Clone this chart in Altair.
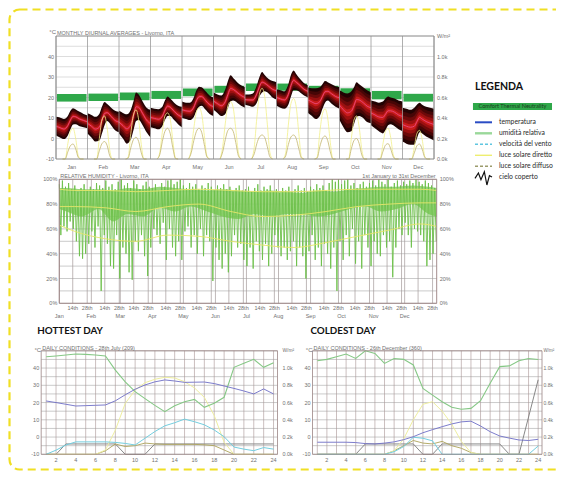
import altair as alt
import pandas as pd

# ---------------- DATA ----------------
MONTHS = ["Jan", "Feb", "Mar", "Apr", "May", "Jun", "Jul", "Aug", "Sep", "Oct", "Nov", "Dec"]
HOURS_T = [0, 3, 6, 9, 11, 13, 15, 18, 21, 24]
T_HI = [
    [10.6, 10.2, 9.5, 11.0, 13.5, 14.8, 14.2, 13.0, 12.0, 11.2],
    [12.3, 11.5, 10.6, 12.0, 15.5, 17.8, 16.8, 15.0, 13.5, 13.0],
    [13.5, 12.5, 11.8, 14.0, 18.0, 22.5, 21.5, 18.0, 15.0, 14.0],
    [15.0, 14.5, 14.3, 15.5, 18.5, 20.5, 19.5, 17.5, 16.0, 15.5],
    [18.0, 17.5, 17.5, 20.0, 23.5, 25.3, 25.0, 23.0, 21.0, 20.0],
    [22.5, 21.5, 21.0, 24.0, 28.0, 30.8, 29.5, 27.5, 26.0, 25.0],
    [21.5, 21.5, 22.0, 26.0, 30.0, 32.5, 31.0, 29.0, 28.0, 27.5],
    [24.0, 23.5, 23.0, 26.5, 31.0, 33.2, 31.5, 29.0, 27.0, 26.0],
    [25.0, 24.5, 24.5, 25.0, 26.5, 28.0, 27.5, 26.5, 25.5, 25.0],
    [23.5, 22.5, 22.0, 23.0, 25.0, 27.5, 26.5, 25.0, 23.5, 22.5],
    [18.5, 18.0, 17.5, 18.0, 19.5, 20.5, 20.0, 19.5, 18.5, 18.0],
    [15.0, 14.5, 14.0, 15.0, 16.5, 17.5, 16.5, 15.5, 15.0, 14.5],
]
T_LO = [
    [1.5, 0.5, -0.3, 1.5, 4.5, 6.8, 7.0, 6.0, 5.5, 5.0],
    [2.5, 0.5, -1.5, -1.0, 2.5, 6.5, 8.5, 6.5, 4.0, 3.0],
    [2.5, 0.0, -2.5, -0.5, 4.0, 8.5, 9.0, 6.5, 3.0, 0.5],
    [5.5, 5.0, 4.5, 6.0, 9.0, 11.0, 11.0, 9.0, 7.0, 5.5],
    [10.0, 9.5, 9.0, 10.5, 13.5, 15.5, 16.0, 14.0, 12.0, 11.0],
    [14.0, 12.5, 11.0, 12.0, 15.0, 18.0, 18.5, 17.5, 16.0, 15.0],
    [16.5, 16.0, 15.5, 17.5, 20.5, 22.5, 23.0, 22.0, 20.0, 19.0],
    [16.0, 15.0, 14.5, 16.5, 20.5, 23.5, 23.5, 22.5, 21.0, 20.0],
    [12.5, 11.0, 9.5, 11.0, 14.5, 17.5, 18.5, 17.0, 15.5, 14.5],
    [9.0, 5.5, 3.0, 3.5, 7.0, 10.5, 11.0, 10.0, 8.0, 7.5],
    [6.5, 5.0, 3.5, 2.5, 4.0, 6.5, 7.0, 6.0, 4.5, 3.5],
    [-1.5, -2.5, -3.0, -3.0, 0.0, 3.0, 2.5, 1.0, 0.0, -1.0],
]
T_MEAN = [
    [6.0, 5.3, 4.6, 6.3, 9.0, 10.8, 10.6, 9.5, 8.8, 8.1],
    [7.4, 6.0, 4.6, 5.5, 9.0, 12.2, 12.6, 10.8, 8.8, 8.0],
    [8.0, 6.3, 4.7, 6.8, 11.0, 15.5, 15.2, 12.2, 9.0, 7.3],
    [10.3, 9.8, 9.4, 10.8, 13.8, 15.8, 15.3, 13.3, 11.5, 10.5],
    [14.0, 13.5, 13.3, 15.3, 18.5, 20.4, 20.5, 18.5, 16.5, 15.5],
    [18.3, 17.0, 16.0, 18.0, 21.5, 24.4, 24.0, 22.5, 21.0, 20.0],
    [19.0, 18.8, 18.8, 21.8, 25.3, 27.5, 27.0, 25.5, 24.0, 23.3],
    [20.0, 19.3, 18.8, 21.5, 25.8, 28.4, 27.5, 25.8, 24.0, 23.0],
    [18.8, 17.8, 17.0, 18.0, 20.5, 22.8, 23.0, 21.8, 20.5, 19.8],
    [16.3, 14.0, 12.5, 13.3, 16.0, 19.0, 18.8, 17.5, 15.8, 15.0],
    [12.5, 11.5, 10.5, 10.3, 11.8, 13.5, 13.5, 12.8, 11.5, 10.8],
    [6.8, 6.0, 5.5, 6.0, 8.3, 10.3, 9.5, 8.3, 7.5, 6.8],
]
COMFORT_LO = [18.0, 18.3, 18.7, 19.3, 20.6, 22.3, 23.2, 23.3, 22.0, 21.2, 19.1, 18.0]
COMFORT_HI = [21.7, 21.9, 22.4, 23.2, 24.4, 25.7, 26.8, 26.8, 25.7, 24.5, 23.2, 21.8]

HOURS_SOLAR = [5, 7, 9, 11, 13, 15, 17, 19, 21]
SOLAR_DIRECT = [
    [0, 0, 150, 270, 300, 200, 30, 0, 0],
    [0, 0, 200, 380, 420, 300, 80, 0, 0],
    [0, 20, 250, 430, 480, 380, 140, 0, 0],
    [0, 60, 260, 420, 450, 390, 180, 10, 0],
    [0, 90, 300, 460, 500, 440, 230, 30, 0],
    [0, 120, 350, 520, 560, 500, 290, 60, 0],
    [0, 110, 400, 630, 690, 610, 340, 60, 0],
    [0, 60, 330, 540, 590, 510, 250, 20, 0],
    [0, 20, 260, 440, 490, 400, 160, 0, 0],
    [0, 0, 200, 380, 420, 310, 90, 0, 0],
    [0, 0, 140, 270, 300, 210, 40, 0, 0],
    [0, 0, 120, 250, 280, 190, 25, 0, 0],
]
SOLAR_DIFFUSE = [
    [0, 0, 70, 130, 146, 100, 15, 0, 0],
    [0, 0, 80, 150, 170, 130, 30, 0, 0],
    [0, 10, 110, 190, 212, 170, 60, 0, 0],
    [0, 40, 170, 270, 300, 250, 110, 5, 0],
    [0, 60, 180, 270, 300, 260, 140, 20, 0],
    [0, 70, 190, 280, 300, 270, 160, 30, 0],
    [0, 50, 150, 215, 234, 210, 120, 20, 0],
    [0, 30, 140, 215, 234, 200, 100, 10, 0],
    [0, 10, 120, 200, 225, 180, 70, 0, 0],
    [0, 0, 100, 180, 200, 150, 40, 0, 0],
    [0, 0, 70, 135, 150, 100, 20, 0, 0],
    [0, 0, 60, 130, 146, 95, 15, 0, 0],
]

# relative humidity, every 3 days
RH_DAYS = list(range(0, 366, 3))
RH_MAX = [96, 99, 94, 97, 92, 95, 90, 93, 96, 91, 94, 92, 97, 95, 93, 99, 94, 96, 92, 98,
          100, 95, 97, 93, 99, 96, 92, 95, 98, 94, 93, 96, 91, 97, 94, 99, 100, 96, 98, 100,
          95, 93, 97, 94, 96, 92, 95, 93, 97, 94, 91, 95, 93, 96, 92, 94, 90, 93, 95, 91,
          92, 94, 90, 93, 96, 91, 94, 92, 95, 90, 92, 89, 93, 91, 94, 90, 92, 95, 91, 93,
          90, 94, 92, 96, 93, 95, 91, 97, 100, 98, 100, 96, 99, 100, 95, 97, 93, 96, 98, 94,
          97, 99, 95, 100, 98, 96, 100, 94, 97, 99, 95, 98, 96, 99, 97, 100, 98, 96, 99, 97,
          95, 93]
RH_MIN = [55, 62, 58, 66, 60, 50, 38, 36, 40, 48, 58, 45, 62, 10, 55, 48, 30, 28, 55, 20,
          45, 40, 25, 19, 50, 42, 55, 38, 22, 45, 60, 55, 48, 65, 35, 60, 45, 38, 50, 35,
          58, 62, 45, 55, 40, 60, 38, 55, 50, 18, 45, 35, 28, 40, 25, 38, 55, 45, 48, 35,
          30, 45, 28, 50, 42, 35, 48, 30, 40, 55, 45, 38, 45, 35, 42, 50, 30, 45, 38, 20,
          42, 55, 35, 45, 30, 48, 40, 28, 45, 10, 50, 35, 55, 38, 60, 32, 50, 28, 55, 45,
          30, 50, 40, 38, 55, 45, 50, 21, 45, 60, 55, 65, 55, 45, 60, 58, 55, 50, 30, 35,
          40, 50]
RH_BODY_DAYS = [0, 7, 22, 38, 52, 66, 81, 97, 112, 127, 143, 158, 173, 189, 204, 220, 235,
                250, 265, 281, 296, 311, 326, 342, 357, 365]
RH_BODY_HIGH = [93, 93, 92, 92, 91, 93, 92, 94, 93, 92, 91, 92, 91, 90, 91, 90, 89, 91, 90,
                92, 93, 94, 94, 95, 94, 93]
RH_BODY_LOW = [76, 74, 70, 76, 66, 72, 70, 77, 74, 78, 74, 70, 68, 72, 70, 72, 72, 70, 72,
               76, 78, 74, 76, 80, 72, 70]
RH_REF_DAYS = [0, 15, 45, 74, 105, 135, 166, 196, 227, 258, 288, 319, 349, 365]
RH_REF_UPPER = [92, 91, 91, 90, 91, 92, 91, 90, 90, 91, 92, 92, 92, 91]
RH_REF_MID = [78, 78, 77, 74, 78, 80, 74, 70, 71, 74, 78, 80, 81, 81]
RH_REF_LOWER = [63, 58, 52, 50, 55, 54, 50, 47, 45, 49, 54, 59, 64, 62]
MONTH_START = [0, 31, 59, 90, 120, 151, 181, 212, 243, 273, 304, 334]

# daily conditions
DAY_HOURS = list(range(1, 25))
HOT_TEMP = [20.9, 20.0, 19.0, 18.0, 18.2, 18.4, 18.6, 21.0, 24.5, 27.7, 30.2, 32.0,
            33.1, 32.5, 31.7, 31.8, 31.9, 31.0, 29.6, 28.2, 26.7, 25.0, 27.9, 25.0]
HOT_RH = [94.3, 95.0, 95.9, 96.9, 96.5, 96.0, 95.0, 81.4, 70.0, 60.5, 53.8, 47.3,
          41.2, 47.0, 50.8, 53.1, 45.4, 49.3, 55.1, 84.0, 87.9, 91.8, 84.0, 88.5]
HOT_WIND = [0.0, 0.8, 1.8, 2.4, 2.4, 2.4, 2.4, 2.3, 2.1, 1.8, 3.1, 4.4,
            5.5, 6.1, 6.8, 6.3, 5.7, 4.7, 3.4, 1.4, 1.0, 0.7, 1.3, 1.0]
HOT_DIRECT = [0, 0, 0, 0, 0, 0, 50, 280, 590, 745, 830, 870,
              893, 885, 842, 770, 660, 450, 140, 0, 0, 0, 0, 0]
HOT_DIFFUSE = [0, 0, 0, 0, 0, 0, 40, 120, 90, 100, 130, 120,
               115, 115, 115, 115, 110, 100, 50, 0, 0, 0, 0, 0]
HOT_CLOUD = [0, 0, 1, 1, 1, 1, 1, 1, 0, 0, 0, 1, 1, 1, 1, 1, 1, 1, 1, 1, 1, 1, 1, 1]

COLD_TEMP = [-3.0, -3.0, -3.0, -3.0, -3.2, -3.8, -4.0, -3.5, -2.8, -1.5, 0.2, 2.5,
             4.3, 6.0, 7.6, 8.8, 9.2, 6.4, 3.1, 0.6, -0.6, -1.7, -2.0, -1.3]
COLD_RH = [90.4, 91.7, 94.3, 96.9, 92.6, 100.0, 97.4, 87.8, 92.6, 91.7, 86.3, 63.7,
           57.2, 50.8, 45.4, 43.5, 44.4, 51.8, 68.6, 84.7, 85.4, 90.4, 92.6, 91.6]
COLD_WIND = [0, 0, 0, 0, 0, 0, 0, 0, 0.5, 1.5, 3.3, 3.1, 2.6, 0, 0, 0, 0, 0, 0, 0, 0, 0, 0, 1.6]
COLD_DIRECT = [0, 0, 0, 0, 0, 0, 0, 0, 40, 180, 400, 580, 610, 500, 350, 150, 20, 0, 0, 0, 0, 0, 0, 0]
COLD_DIFFUSE = [0, 0, 0, 0, 0, 0, 0, 0, 40, 100, 160, 130, 120, 150, 100, 70, 20, 0, 0, 0, 0, 0, 0, 0]
COLD_CLOUD = [0, 0, 0, 0, 0, 1, 1, 1, 1, 1, 1, 0, 0, 1, 1, 1, 1, 1, 1, 1, 0, 0, 3.6, 7.2]

LEGEND_LABELS = ["temperatura", "umidità relativa", "velocità del vento",
                 "luce solare diretto", "luce solare diffuso", "cielo coperto"]
ICON_X = [0, 2, 3.5, 5.5, 7, 8.5, 10]
ICON_Y = [5, 9, 4, 10, 0, 7, 6]

# ---------------- HELPERS ----------------
FONT = "Liberation Sans"
LBL = "#707070"
OFF = 8  # page margin: ranges below are given in page pixels


def S(domain, rng):
    return alt.Scale(domain=domain, range=[r - OFF for r in rng], nice=False, zero=False)


def ax(f, s):
    return alt.X(f, type="quantitative", scale=s, axis=None)


def ay(f, s):
    return alt.Y(f, type="quantitative", scale=s, axis=None)


layers = []

# dashed yellow page frame (decoration)
layers.append(alt.Chart(pd.DataFrame({"k": [0]})).mark_rect(
    fillOpacity=0, stroke="#f0df24", strokeWidth=2.2, strokeDash=[8, 5], cornerRadius=10
).encode(x=alt.value(1.5), x2=alt.value(600), y=alt.value(1.5), y2=alt.value(461.5)))


def rules_h(vals, a, b, xs, ys, color, w=0.6):
    df = pd.DataFrame({"v": vals, "a": a, "b": b})
    layers.append(alt.Chart(df).mark_rule(color=color, strokeWidth=w).encode(
        x=ax("a", xs), x2="b", y=ay("v", ys)))


def rules_v(vals, a, b, xs, ys, color, w=0.6):
    df = pd.DataFrame({"v": vals, "a": a, "b": b})
    layers.append(alt.Chart(df).mark_rule(color=color, strokeWidth=w).encode(
        x=ax("v", xs), y=ay("a", ys), y2="b"))


def frame(x0, x1, y0, y1, xs, ys, color, w=0.8):
    df = pd.DataFrame({"a": [x0], "b": [x1], "c": [y0], "d": [y1]})
    layers.append(alt.Chart(df).mark_rect(fillOpacity=0, stroke=color, strokeWidth=w).encode(
        x=ax("a", xs), x2="b", y=ay("c", ys), y2="d"))


def texts(xv, yv, labs, xs, ys, **kw):
    df = pd.DataFrame({"x": xv, "y": yv, "lab": labs})
    props = dict(font=FONT, fontSize=5.5, color=LBL, baseline="middle")
    props.update(kw)
    layers.append(alt.Chart(df).mark_text(**props).encode(
        x=ax("x", xs), y=ay("y", ys), text="lab:N"))


def line(df, xf, yf, xs, ys, color, w=0.9, dash=None, interp="linear", detail=None, opacity=1.0):
    kw = dict(color=color, strokeWidth=w, interpolate=interp, opacity=opacity)
    if dash:
        kw["strokeDash"] = dash
    enc = dict(x=ax(xf, xs), y=ay(yf, ys))
    if detail:
        enc["detail"] = alt.Detail(detail, type="nominal")
    layers.append(alt.Chart(df).mark_line(**kw).encode(**enc))


# ---------------- TOP: MONTHLY DIURNAL AVERAGES ----------------
TX = S([0, 12], [56, 434])
TY = S([-10, 50], [159, 36])
TW = S([0, 1200], [159, 36])

rules_h(list(range(-10, 51, 5)), 0, 12, TX, TY, "#cfcfcf", 0.7)

comfort_df = pd.DataFrame({"m": range(12), "lo": COMFORT_LO, "hi": COMFORT_HI})
layers.append(alt.Chart(comfort_df).transform_calculate(
    a="datum.m + 0.03", b="datum.m + 0.97").mark_rect(color="#2fa84a").encode(
    x=ax("a", TX), x2="b", y=ay("lo", TY), y2="hi"))

band_rows = []
for m in range(12):
    for i, h in enumerate(HOURS_T):
        band_rows.append(dict(m=m, x=m + h / 24, hi=T_HI[m][i], lo=T_LO[m][i], mean=T_MEAN[m][i]))
band_df = pd.DataFrame(band_rows)
for f, c in zip([0, 0.22, 0.44, 0.64, 0.83], ["#220303", "#460606", "#6c0a0a", "#9a1010", "#c81b1b"]):
    layers.append(alt.Chart(band_df).transform_calculate(
        u=f"datum.hi - {f} * (datum.hi - datum.mean)",
        l=f"datum.lo + {f} * (datum.mean - datum.lo)").mark_area(
        color=c, interpolate="monotone").encode(
        x=ax("x", TX), y=ay("u", TY), y2="l", detail=alt.Detail("m", type="nominal")))
line(band_df, "x", "mean", TX, TY, "#f0508c", 0.8, interp="monotone", detail="m")

solar_rows = []
for m in range(12):
    for i, h in enumerate(HOURS_SOLAR):
        solar_rows.append(dict(m=m, x=m + h / 24, d=SOLAR_DIRECT[m][i], f=SOLAR_DIFFUSE[m][i]))
solar_df = pd.DataFrame(solar_rows)
line(solar_df, "x", "d", TX, TW, "#f2f08a", 1.0, interp="monotone", detail="m", opacity=0.8)
line(solar_df, "x", "f", TX, TW, "#c4b670", 0.9, interp="monotone", detail="m", opacity=0.9)

rules_v(list(range(0, 13)), -10, 50, TX, TY, "#9a9a9a", 0.8)
frame(0, 12, -10, 50, TX, TY, "#8c8c8c", 0.9)

texts([0] * 6, [-10, 0, 10, 20, 30, 40], ["-10", "0", "10", "20", "30", "40"], TX, TY,
      align="right", dx=-2)
texts([0], [50], ["°C"], TX, TY, align="right", dx=0, dy=-4, fontSize=6)
texts([0], [50], ["MONTHLY DIURNAL AVERAGES - Livorno, ITA"], TX, TY, align="left",
      baseline="bottom", dx=1, dy=-0.5)
texts([12] * 6, [0, 200, 400, 600, 800, 1000], ["0.0k", "0.2k", "0.4k", "0.6k", "0.8k", "1.0k"],
      TX, TW, align="left", dx=3)
texts([12], [1200], ["W/m²"], TX, TW, align="left", dx=3)
texts([m + 0.5 for m in range(12)], [-10] * 12, MONTHS, TX, TY, align="center", dy=7.5)

# ---------------- MIDDLE: RELATIVE HUMIDITY ----------------
MX = S([0, 365], [59.3, 436.7])
MY = S([0, 100], [303.3, 179.3])

rules_h(list(range(0, 101, 10)), 0, 365, MX, MY, "#b4b4b4", 0.7)
vdays = []
for s in MONTH_START:
    vdays += [s, s + 13, s + 27]
rules_v(vdays, 0, 100, MX, MY, "#a39a9a", 0.7)

body_df = pd.DataFrame({"d": RH_BODY_DAYS, "hi": RH_BODY_HIGH, "lo": RH_BODY_LOW})
layers.append(alt.Chart(body_df).mark_area(color="#86cf64", interpolate="monotone", opacity=0.85).encode(
    x=ax("d", MX), y=ay("hi", MY), y2="lo"))
zig = []
for d, mx, mn in zip(RH_DAYS, RH_MAX, RH_MIN):
    zig.append(dict(d=d, v=mx))
    zig.append(dict(d=d + 1.5, v=mn))
zig_df = pd.DataFrame(zig)
line(zig_df, "d", "v", MX, MY, "#6cc04a", 0.9)

ref_df = pd.DataFrame({"d": RH_REF_DAYS, "u": RH_REF_UPPER, "m": RH_REF_MID, "l": RH_REF_LOWER})
for col in ["u", "m", "l"]:
    line(ref_df, "d", col, MX, MY, "#e6e66a", 0.9, interp="monotone")

frame(0, 365, 0, 100, MX, MY, "#9a8080", 0.9)
texts([0] * 6, [0, 20, 40, 60, 80, 100], ["0%", "20%", "40%", "60%", "80%", "100%"], MX, MY,
      align="right", dx=-2)
texts([365] * 6, [0, 20, 40, 60, 80, 100], ["0%", "20%", "40%", "60%", "80%", "100%"], MX, MY,
      align="left", dx=3)
texts([0], [100], ["RELATIVE HUMIDITY - Livorno, ITA"], MX, MY, align="left",
      baseline="bottom", dx=1, dy=-0.5)
texts([365], [100], ["1st January to 31st December"], MX, MY, align="right",
      baseline="bottom", dx=-1, dy=-0.5)
tick_days, tick_labs = [], []
for s in MONTH_START:
    tick_days += [s + 13, s + 27]
    tick_labs += ["14th", "28th"]
texts(tick_days, [0] * len(tick_days), tick_labs, MX, MY, align="center", dy=5)
texts(MONTH_START, [0] * 12, MONTHS, MX, MY, align="center", dy=12.5)

# ---------------- BOTTOM: DAILY CONDITIONS ----------------
DY = S([-10, 50], [454.3, 350.8])
DP = S([0, 100], [454.3, 350.8])
DW = S([0, 1200], [454.3, 350.8])
DV = S([0, 20], [454.3, 350.8])
DC = S([0, 10], [454.3, 350.8])


def daily(XS, temp, rh, wind, direct, diffuse, cloud, title, heading, hdx, rdx, rfs):
    rules_h(list(range(-10, 51, 5)), 0.5, 24.4, XS, DY, "#a6a6a6", 0.6)
    rules_v(DAY_HOURS, -10, 50, XS, DY, "#a89494", 0.6)
    df = pd.DataFrame({"h": DAY_HOURS, "t": temp, "rh": rh, "w": wind,
                       "dr": direct, "df": diffuse, "c": cloud})
    line(df, "h", "c", XS, DC, "#7a7a7a", 0.9)
    line(df, "h", "df", XS, DW, "#ada35a", 0.9)
    line(df, "h", "dr", XS, DW, "#eeeea0", 1.0)
    line(df, "h", "w", XS, DV, "#74cedf", 1.0)
    line(df, "h", "rh", XS, DP, "#86c886", 1.1)
    line(df, "h", "t", XS, DY, "#6e6ec6", 0.9)
    frame(0.5, 24.4, -10, 50, XS, DY, "#9a8484", 0.8)
    texts([0.5] * 6, [-10, 0, 10, 20, 30, 40], ["-10", "0", "10", "20", "30", "40"], XS, DY,
          align="right", dx=-2)
    texts([0.5], [50], ["°C"], XS, DY, align="right", dx=0, dy=-0.5, fontSize=6)
    texts([0.5], [50], [title], XS, DY, align="left", baseline="bottom", dx=1, dy=-0.3)
    texts([24.4] * 6, [0, 200, 400, 600, 800, 1000],
          ["0.0k", "0.2k", "0.4k", "0.6k", "0.8k", "1.0k"], XS, DW, align="left", dx=rdx,
          fontSize=rfs)
    texts([24.4], [1200], ["W/m²"], XS, DW, align="left", dx=rdx, fontSize=rfs - 0.5)
    hrs = list(range(2, 25, 2))
    texts(hrs, [-10] * len(hrs), [str(h) for h in hrs], XS, DY, align="center", dy=6)
    texts([0.5], [50], [heading], XS, DY, align="left", dx=hdx, dy=-20, font="Lato",
          fontWeight="bold", fontSize=9.8, color="#111111")


HX = S([0.5, 24.4], [41.2, 277.5])
CX = S([0.5, 24.4], [312.5, 542.0])
daily(HX, HOT_TEMP, HOT_RH, HOT_WIND, HOT_DIRECT, HOT_DIFFUSE, HOT_CLOUD,
      "DAILY CONDITIONS - 28th July (209)", "HOTTEST DAY", -4, 5, 5.4)
daily(CX, COLD_TEMP, COLD_RH, COLD_WIND, COLD_DIRECT, COLD_DIFFUSE, COLD_CLOUD,
      "DAILY CONDITIONS - 26th December (360)", "COLDEST DAY", -2, 1.5, 5.0)

# ---------------- LEGEND ----------------
LX = S([0, 1], [475, 492])
LY = S([0, 5], [122.3, 177.3])
texts([0], [0], ["LEGENDA"], LX, LY, align="left", dy=-35.6, font="Lato",
      fontWeight="bold", fontSize=10.5, color="#111111")
box = pd.DataFrame({"a": [-0.12], "b": [4.53], "c": [-1.75], "d": [-1.12]})
layers.append(alt.Chart(box).mark_rect(color="#2fa84a").encode(
    x=ax("a", LX), x2="b", y=ay("c", LY), y2="d"))
texts([2.2], [-1.44], ["Comfort Thermal Neutrality"], LX, LY, align="center",
      font="Lato", fontSize=5.6, color="#1c3a1c")
styles = [("#2a4cc4", 2.0, None), ("#9ad89a", 2.4, None), ("#5fc6e0", 1.4, [3, 2]),
          ("#eeee70", 1.4, None), ("#9c9c6c", 1.4, [3, 2])]
for i, (c, w, dash) in enumerate(styles):
    df = pd.DataFrame({"a": [0], "b": [1], "r": [i]})
    kw = dict(color=c, strokeWidth=w)
    if dash:
        kw["strokeDash"] = dash
    layers.append(alt.Chart(df).mark_rule(**kw).encode(x=ax("a", LX), x2="b", y=ay("r", LY)))
texts([1] * 6, list(range(6)), LEGEND_LABELS, LX, LY, align="left", dx=7, font="Lato",
      fontSize=6.8, color="#2a2a2a")
IX = S([0, 10], [475, 492])
IY = S([0, 10], [185, 171.7])
line(pd.DataFrame({"x": ICON_X, "y": ICON_Y}), "x", "y", IX, IY, "#111111", 1.2)

chart = alt.layer(*layers).resolve_scale(x="independent", y="independent").properties(
    width=548, height=463, padding=0, autosize="none"
).configure_view(strokeWidth=0)

chart.save("out.html", embed_options={"renderer": "svg", "actions": False})
